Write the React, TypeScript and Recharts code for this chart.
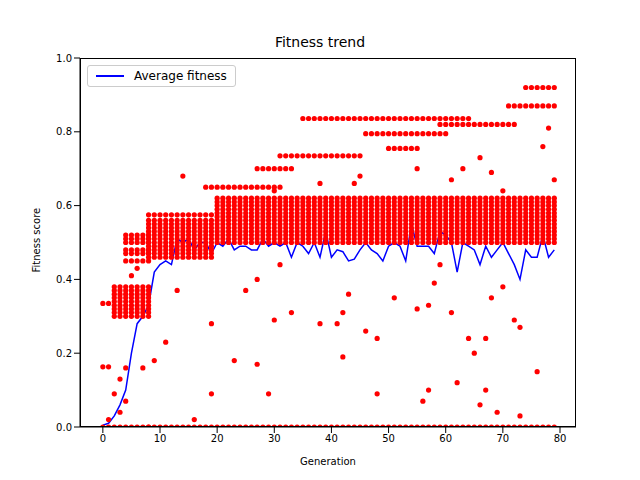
import React from "react";
import { ComposedChart, Line, Scatter, XAxis, YAxis } from "recharts";

// average fitness per generation (0..79)
const avgFitness = [
  0.005, 0.01, 0.03, 0.06, 0.1, 0.2, 0.28, 0.3, 0.33, 0.42,
  0.44, 0.45, 0.44, 0.51, 0.5, 0.51, 0.48, 0.5, 0.5, 0.47,
  0.5, 0.49, 0.51, 0.48, 0.49, 0.49, 0.48, 0.48, 0.51, 0.49,
  0.5, 0.49, 0.5, 0.46, 0.5, 0.49, 0.47, 0.5, 0.46, 0.53,
  0.46, 0.48, 0.475, 0.45, 0.455, 0.48, 0.5, 0.48, 0.47, 0.45,
  0.49, 0.5, 0.49, 0.45, 0.55, 0.49, 0.49, 0.49, 0.47, 0.53,
  0.52, 0.5, 0.42, 0.5, 0.49, 0.48, 0.44, 0.49, 0.46, 0.48,
  0.5, 0.47, 0.44, 0.4, 0.48, 0.46, 0.46, 0.52, 0.46, 0.48,
];

// individual scores: [first gen, last gen, values seen in each of those generations]
const scoreBands: [number, number, number[]][] = [
  [0, 1, [0.335, 0.163, 0.0]],
  [2, 8, [0.3, 0.31, 0.32, 0.33, 0.34, 0.35, 0.36, 0.37, 0.38, 0.0]],
  [4, 8, [0.45, 0.47, 0.48, 0.5, 0.51, 0.52]],
  [8, 19, [0.46, 0.47, 0.48, 0.49, 0.5, 0.51, 0.52, 0.53, 0.54, 0.55, 0.56, 0.575, 0.0]],
  [20, 79, [0.5, 0.51, 0.52, 0.53, 0.54, 0.55, 0.56, 0.57, 0.58, 0.59, 0.6, 0.61, 0.62, 0.0]],
  [18, 31, [0.65]],
  [27, 33, [0.7]],
  [31, 45, [0.735]],
  [35, 64, [0.836]],
  [46, 60, [0.795]],
  [50, 55, [0.755]],
  [59, 72, [0.82]],
  [71, 79, [0.87]],
  [74, 79, [0.92]],
];

// scattered outliers [generation, score]
const outliers: [number, number][] = [
  [1, 0.02], [2, 0.09], [3, 0.13], [3, 0.04], [4, 0.16], [4, 0.07], [5, 0.41], [6, 0.43],
  [7, 0.16], [9, 0.18], [11, 0.23], [13, 0.37], [16, 0.02], [19, 0.09], [19, 0.28],
  [23, 0.18], [25, 0.37], [27, 0.17], [27, 0.4], [29, 0.09], [30, 0.29], [31, 0.44],
  [33, 0.31], [38, 0.28], [41, 0.28], [42, 0.31], [42, 0.19], [43, 0.36], [46, 0.26],
  [48, 0.24], [48, 0.09], [51, 0.35], [55, 0.32], [56, 0.07], [57, 0.1], [57, 0.33],
  [58, 0.39], [59, 0.44], [61, 0.31], [62, 0.12], [64, 0.24], [65, 0.2], [66, 0.06],
  [67, 0.1], [67, 0.24], [68, 0.35], [69, 0.04], [70, 0.38], [72, 0.29], [73, 0.03],
  [73, 0.27], [76, 0.15], [14, 0.68], [45, 0.68], [63, 0.7], [66, 0.73], [77, 0.76], [78, 0.81],
  [30, 0.64], [38, 0.66], [44, 0.66], [55, 0.7], [61, 0.67], [68, 0.69], [79, 0.67], [70, 0.64],
];

const lineData = avgFitness.map((v, i) => ({ gen: i, avg: v }));
const scatterData = [
  ...scoreBands.flatMap(([a, b, vals]) => {
    const out: { gen: number; score: number }[] = [];
    for (let g = a; g <= b; g++) vals.forEach((v) => out.push({ gen: g, score: v }));
    return out;
  }),
  ...outliers.map(([g, v]) => ({ gen: g, score: v })),
];

const font = "DejaVu Sans";

export default function App() {
  return (
    <div style={{ position: "absolute", left: 0, top: 0, width: 640, height: 480, background: "#fff", fontFamily: font }}>
      <div style={{ position: "absolute", top: 34, width: 640, textAlign: "center", fontSize: 14, color: "#000" }}>
        Fitness trend
      </div>
      <ComposedChart width={640} height={480} margin={{ top: 58, right: 64, left: 40, bottom: 23 }}>
        <XAxis
          dataKey="gen"
          type="number"
          domain={[-4, 82.8]}
          ticks={[0, 10, 20, 30, 40, 50, 60, 70, 80]}
          allowDataOverflow
          height={30}
          stroke="#000"
          tick={{ fill: "#000", fontSize: 10, fontFamily: font }}
          label={{ value: "Generation", position: "insideBottom", offset: -8, fill: "#000", fontSize: 10, fontFamily: font }}
        />
        <YAxis
          type="number"
          domain={[0, 1]}
          ticks={[0, 0.2, 0.4, 0.6, 0.8, 1]}
          tickFormatter={(v) => v.toFixed(1)}
          allowDataOverflow
          width={40}
          stroke="#000"
          tick={{ fill: "#000", fontSize: 10, fontFamily: font }}
          label={{ value: "Fitness score", angle: -90, position: "insideLeft", offset: -4, dy: 30, fill: "#000", fontSize: 10, fontFamily: font }}
        />
        <Scatter
          data={scatterData}
          dataKey="score"
          fill="#ff0000"
          isAnimationActive={false}
          shape={(p: any) => <circle cx={p.cx} cy={p.cy} r={2.6} fill="#ff0000" />}
        />
        <Line
          data={lineData}
          dataKey="avg"
          name="Average fitness"
          stroke="#0000ff"
          strokeWidth={1.5}
          dot={false}
          isAnimationActive={false}
        />
      </ComposedChart>
      <div style={{ position: "absolute", left: 80, top: 58, width: 496, height: 369, border: "1px solid #000", boxSizing: "border-box", pointerEvents: "none" }} />
      <div style={{ position: "absolute", left: 87, top: 65, border: "1px solid #ccc", borderRadius: 3, padding: "3px 8px", display: "flex", alignItems: "center", fontSize: 12, background: "#fff" }}>
        <span style={{ display: "inline-block", width: 28, height: 2, background: "#0000ff", marginRight: 10 }} />
        Average fitness
      </div>
    </div>
  );
}
